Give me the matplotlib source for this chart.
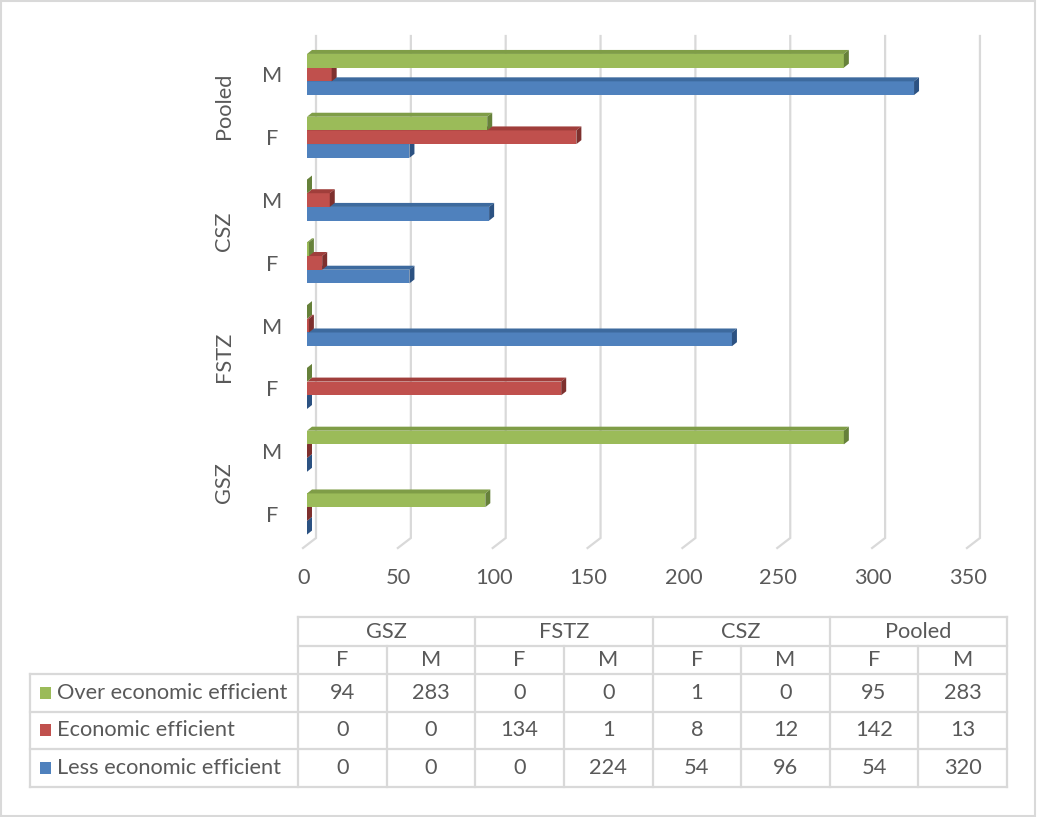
import matplotlib
matplotlib.use("Agg")
from matplotlib import pyplot as plt
from matplotlib.patches import Polygon, Rectangle
from matplotlib.lines import Line2D
from matplotlib.transforms import blended_transform_factory

# Data: columns go GSZ F, GSZ M, FSTZ F, FSTZ M, CSZ F, CSZ M, Pooled F, Pooled M
zones = ["GSZ", "FSTZ", "CSZ", "Pooled"]
sexes = ["F", "M"]
series_names = ["Over economic efficient", "Economic efficient", "Less economic efficient"]
over = [94, 283, 0, 0, 1, 0, 95, 283]
econ = [0, 0, 134, 1, 8, 12, 142, 13]
less = [0, 0, 0, 224, 54, 96, 54, 320]
xticks = [0, 50, 100, 150, 200, 250, 300, 350]

front_colors = ["#9BBB59", "#C0504D", "#4F81BD"]
top_colors = ["#7F9D47", "#A03E3B", "#3D6A9E"]
side_colors = ["#66813A", "#7E302E", "#2C5282"]
text_color = "#595959"
grid_color = "#D9D9D9"

plt.rcParams["font.family"] = ["Lato", "DejaVu Sans"]
fs = 15.7

W, H = 1037, 817
fig = plt.figure(figsize=(W / 100, H / 100), dpi=100)


def fx(px):
    return px / W


def fy(py):
    return 1 - py / H


# outer frame
fig.add_artist(Rectangle((fx(1), fy(816)), fx(1034), fy(1) - fy(816),
                         transform=fig.transFigure, fill=False,
                         edgecolor=grid_color, lw=1.5))

ax = fig.add_axes([fx(290), fy(560), fx(990) - fx(290), fy(30) - fy(560)])
scale = 1.897   # pixels per unit
row_px = 62.8   # pixels per category
ax.set_xlim(-(307 - 290) / scale, (990 - 307) / scale)
ax.set_ylim(-(560 - 514) / row_px, 7 + (74.5 - 30) / row_px)
ax.axis("off")

# gridlines on the back wall with a short slanted foot on the floor
g_top = 7 + (74.5 - 36) / row_px
g_bot = -(538 - 514) / row_px
g_foot = -(548 - 514) / row_px
back = 9 / scale
front = -4 / scale
for v in xticks:
    ax.plot([v + back, v + back, v + front], [g_top, g_bot, g_foot],
            color=grid_color, lw=1.6, solid_joinstyle="miter", zorder=1)

# 3D-ish bars: front face, top face, end face
h = 13.7 / row_px
dx = 5 / scale
dy = 4 / row_px
series = [over, econ, less]
offsets = [h, 0, -h]
for s in [2, 1, 0]:
    vals = series[s]
    for i, v in enumerate(vals):
        yc = i + offsets[s]
        yb, yt = yc - h / 2, yc + h / 2
        z = 3 + (2 - s)
        if v > 0:
            ax.add_patch(Rectangle((0, yb), v, h, facecolor=front_colors[s],
                                   edgecolor="none", zorder=z))
            ax.add_patch(Polygon([(0, yt), (v, yt), (v + dx, yt + dy), (dx, yt + dy)],
                                 closed=True, facecolor=top_colors[s],
                                 edgecolor="none", zorder=z))
        ax.add_patch(Polygon([(v, yb), (v, yt), (v + dx, yt + dy), (v + dx, yb + dy)],
                             closed=True, facecolor=side_colors[s],
                             edgecolor="none", zorder=z))

# category labels
trans_y = blended_transform_factory(ax.transAxes, ax.transData)
for i in range(8):
    ax.text((272 - 290) / 700, i - 0.03, sexes[i % 2], transform=trans_y,
            ha="center", va="center", fontsize=fs, color=text_color)
for k, zname in enumerate(zones):
    ax.text((224 - 290) / 700, 2 * k + 0.5, zname, transform=trans_y,
            ha="center", va="center", rotation=90, fontsize=fs, color=text_color)

# value axis labels
trans_x = blended_transform_factory(ax.transData, fig.transFigure)
for v in xticks:
    ax.text(v - 3 / scale, fy(578), str(v), transform=trans_x,
            ha="center", va="center", fontsize=fs, color=text_color)

# data table below the chart
col_x0 = 298
col_w = (1007 - 298) / 8
lab_x0 = 30
r_top, r_h1, r_h2 = 617, 646, 674
row_h = 37.5
rows_y = [r_h2 + row_h * k for k in range(4)]
x_end = col_x0 + 8 * col_w


def hline(y, x0, x1):
    fig.add_artist(Line2D([fx(x0), fx(x1)], [fy(y), fy(y)], color=grid_color,
                          lw=1.6, transform=fig.transFigure))


def vline(x, y0, y1):
    fig.add_artist(Line2D([fx(x), fx(x)], [fy(y0), fy(y1)], color=grid_color,
                          lw=1.6, transform=fig.transFigure))


hline(r_top, col_x0, x_end)
hline(r_h1, col_x0, x_end)
for y in rows_y:
    hline(y, lab_x0, x_end)
vline(lab_x0, rows_y[0], rows_y[-1])
for c in range(9):
    x = col_x0 + c * col_w
    vline(x, r_top if c % 2 == 0 else r_h1, rows_y[-1])

for k, zname in enumerate(zones):
    fig.text(fx(col_x0 + (2 * k + 1) * col_w), fy((r_top + r_h1) / 2), zname,
             ha="center", va="center", fontsize=fs, color=text_color)
for c in range(8):
    fig.text(fx(col_x0 + (c + 0.5) * col_w), fy((r_h1 + r_h2) / 2), sexes[c % 2],
             ha="center", va="center", fontsize=fs, color=text_color)

for r in range(3):
    yc = (rows_y[r] + rows_y[r + 1]) / 2
    fig.add_artist(Rectangle((fx(40), fy(yc + 6)), fx(11), fy(yc - 6) - fy(yc + 6),
                             transform=fig.transFigure, facecolor=front_colors[r],
                             edgecolor="none"))
    fig.text(fx(57), fy(yc), series_names[r], ha="left", va="center",
             fontsize=fs, color=text_color)
    for c, v in enumerate(series[r]):
        fig.text(fx(col_x0 + (c + 0.5) * col_w), fy(yc), str(v),
                 ha="center", va="center", fontsize=fs, color=text_color)

fig.savefig("out.png", dpi=100)
